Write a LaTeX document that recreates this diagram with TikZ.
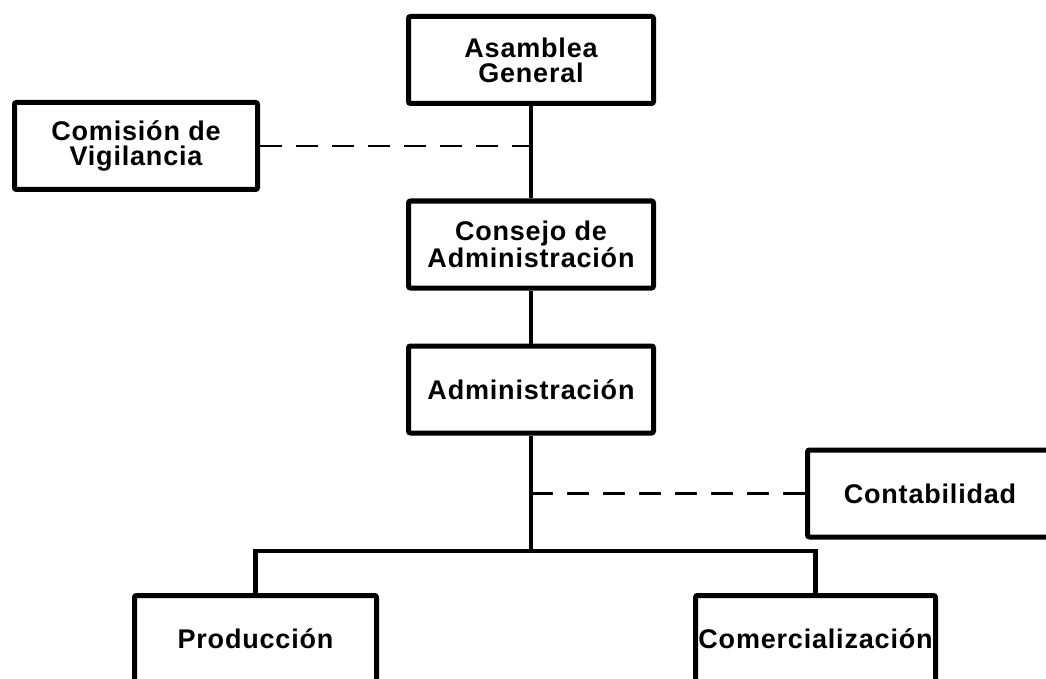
\documentclass[tikz,border=0pt]{standalone}
\usepackage{fontspec}
\setmainfont{Liberation Sans}
\newfontfamily\orgfont[LetterSpace=3]{Liberation Sans}
\begin{document}
\begin{tikzpicture}[x=1pt,y=-1pt,
    orgbox/.style={draw=black, line width=5pt, rounded corners=2pt, fill=white,
        minimum width=245pt, minimum height=87pt, inner sep=0pt, align=center,
        font=\orgfont\bfseries\fontsize{27}{25}\selectfont},
    link/.style={line width=4.5pt},
    dotted link/.style={line width=2.5pt, dash pattern=on 22pt off 14pt}]
        \useasboundingbox (0,0) rectangle (1046,679);
        % Text Node
        \draw (531,60) node [orgbox] (asamblea) {Asamblea\\General};
        % Text Node
        \draw (136,146) node [orgbox, minimum width=243pt] (comision) {Comisión de\\Vigilancia};
        % Text Node
        \draw (531,244.5) node [orgbox] (consejo) {Consejo de\\Administración};
        % Text Node
        \draw (531,389.5) node [orgbox] (admin) {Administración};
        % Text Node
        \draw (930,493.5) node [orgbox] (conta) {Contabilidad};
        % Text Node
        \draw (255.5,639) node [orgbox, minimum width=242pt] (prod) {Producción};
        % Text Node
        \draw (815.5,639) node [orgbox, minimum width=240pt] (comer) {Comercialización};
        % Connection
        \draw [link] (asamblea) -- (consejo);
        \draw [link] (consejo) -- (admin);
        \coordinate (bus) at (531,551);
        \draw [link] (admin) -- (bus);
        \draw [link] (prod.north) |- (bus) -| (comer.north);
        % Connection
        \draw [dotted link] (comision.east) -- (comision.east -| asamblea.south);
        \draw [dotted link] (conta.west) -- (conta.west -| admin.south);
\end{tikzpicture}
\end{document}
